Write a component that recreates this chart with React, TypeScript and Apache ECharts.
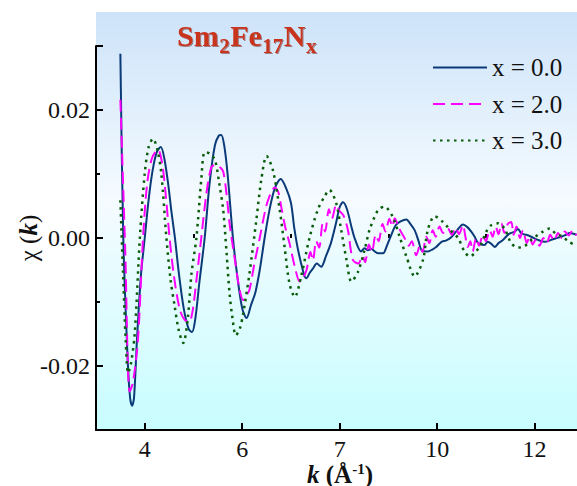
import React, { useEffect, useRef } from "react";
import * as echarts from "echarts";

const seriesNames = ["x = 0.0", "x = 2.0", "x = 3.0"];

// title pieces: [text, isSubscript]
const titleParts: [string, boolean][] = [
  ["Sm", false],
  ["2", true],
  ["Fe", false],
  ["17", true],
  ["N", false],
  ["x", true],
];

// x = 0.0
const k0 = [3.5, 3.56, 3.65, 3.7, 3.74, 3.78, 3.84, 3.92, 4.0, 4.08, 4.16, 4.25, 4.33, 4.4, 4.48, 4.55, 4.62, 4.7, 4.8, 4.9, 4.97, 5.04, 5.12, 5.23, 5.33, 5.44, 5.52, 5.57, 5.63, 5.7, 5.81, 5.9, 6.0, 6.09, 6.18, 6.27, 6.36, 6.46, 6.56, 6.67, 6.79, 6.9, 7.0, 7.07, 7.15, 7.28, 7.32, 7.38, 7.45, 7.53, 7.62, 7.72, 7.82, 7.93, 8.0, 8.07, 8.15, 8.25, 8.32, 8.44, 8.51, 8.58, 8.65, 8.72, 8.79, 8.89, 8.97, 9.06, 9.15, 9.25, 9.37, 9.45, 9.54, 9.62, 9.68, 9.81, 9.9, 9.98, 10.09, 10.18, 10.29, 10.41, 10.53, 10.62, 10.7, 10.77, 10.84, 10.97, 11.04, 11.11, 11.18, 11.26, 11.35, 11.47, 11.59, 11.66, 11.73, 11.83, 11.93, 12.07, 12.21, 12.34, 12.45, 12.55, 12.64, 12.72, 12.86];
const chi0 = [0.0288, 0.0, -0.019, -0.025, -0.0262, -0.025, -0.016, -0.006, 0.0, 0.006, 0.0105, 0.0135, 0.0142, 0.0125, 0.0085, 0.004, 0.0, -0.0055, -0.011, -0.0142, -0.0147, -0.0125, -0.007, 0.0, 0.0085, 0.0145, 0.016, 0.0161, 0.0145, 0.01, 0.0, -0.006, -0.011, -0.0125, -0.0105, -0.0085, -0.005, 0.0, 0.0044, 0.0078, 0.0092, 0.0078, 0.0055, 0.0015, -0.002, -0.006, -0.0063, -0.0055, -0.0048, -0.004, -0.0045, -0.0028, -0.0008, 0.0025, 0.0048, 0.0056, 0.0045, 0.0015, -0.0003, -0.0021, -0.0016, -0.0019, -0.0017, -0.0021, -0.0024, -0.0024, -0.0012, 0.0005, 0.002, 0.0026, 0.0029, 0.0022, 0.0012, -0.0005, -0.0019, -0.0021, -0.0018, -0.0014, -0.0006, -0.0004, 0.0001, 0.0012, 0.0021, 0.0017, 0.001, 0.0002, -0.0008, -0.0011, -0.0006, -0.0009, -0.0014, -0.0008, -0.0003, 0.0006, 0.001, 0.0014, 0.0007, 0.0005, 0.0002, -0.0003, -0.0006, -0.0003, 0.0, 0.0002, 0.0005, 0.0008, 0.0005];

// x = 2.0
const k2 = [3.5, 3.6, 3.69, 3.76, 3.86, 3.965, 4.05, 4.15, 4.27, 4.36, 4.44, 4.51, 4.6, 4.72, 4.82, 4.91, 4.98, 5.07, 5.16, 5.27, 5.37, 5.47, 5.55, 5.61, 5.68, 5.74, 5.85, 5.94, 6.02, 6.1, 6.15, 6.25, 6.36, 6.45, 6.53, 6.67, 6.74, 6.8, 6.88, 6.97, 7.08, 7.18, 7.25, 7.32, 7.4, 7.45, 7.52, 7.58, 7.65, 7.7, 7.78, 7.84, 7.93, 8.0, 8.08, 8.17, 8.27, 8.38, 8.47, 8.52, 8.6, 8.66, 8.74, 8.8, 8.88, 8.94, 9.02, 9.08, 9.13, 9.22, 9.33, 9.42, 9.48, 9.57, 9.65, 9.7, 9.78, 9.84, 9.91, 9.97, 10.05, 10.12, 10.22, 10.3, 10.38, 10.45, 10.53, 10.58, 10.63, 10.68, 10.73, 10.8, 10.86, 10.94, 11.0, 11.08, 11.14, 11.2, 11.26, 11.32, 11.38, 11.45, 11.52, 11.57, 11.63, 11.7, 11.76, 11.84, 11.9, 11.96, 12.03, 12.1, 12.18, 12.25, 12.32, 12.4, 12.48, 12.55, 12.62, 12.7, 12.78, 12.86];
const chi2 = [0.0216, -0.002, -0.024, -0.0225, -0.016, 0.0, 0.0085, 0.0125, 0.0138, 0.0115, 0.006, 0.0, -0.006, -0.0112, -0.0128, -0.0131, -0.0115, -0.006, 0.0, 0.0072, 0.0111, 0.0114, 0.011, 0.0104, 0.0068, 0.0023, -0.0034, -0.0078, -0.0097, -0.0088, -0.0081, -0.004, 0.0, 0.0035, 0.0059, 0.0079, 0.0072, 0.0049, 0.0018, -0.0008, -0.0045, -0.0068, -0.0062, -0.005, -0.0022, -0.0035, -0.0005, -0.0015, 0.0022, 0.001, 0.0045, 0.003, 0.0052, 0.0042, 0.0035, 0.0012, -0.0034, -0.004, -0.0028, -0.0038, -0.001, -0.0022, 0.0005, -0.0005, 0.0022, 0.001, 0.003, 0.0018, 0.0031, 0.0015, 0.0, -0.0012, -0.0005, -0.0027, -0.0012, -0.0022, 0.0002, -0.0008, 0.0012, 0.0002, 0.0018, 0.0008, 0.0015, 0.0005, 0.0016, 0.0006, 0.002, 0.0002, -0.0014, -0.0005, -0.0021, 0.0, -0.0012, 0.0005, -0.0005, 0.0012, 0.0002, 0.0018, 0.0006, 0.0023, 0.0008, 0.0022, 0.0025, 0.0005, 0.0018, 0.0, 0.0012, -0.0008, 0.0003, -0.001, -0.0002, -0.0012, 0.0, -0.0008, 0.0005, -0.0004, 0.0008, 0.0, 0.001, 0.0004, 0.0012, 0.0004];

// x = 3.0
const k3 = [3.5, 3.555, 3.61, 3.66, 3.72, 3.795, 3.9, 4.0, 4.08, 4.17, 4.26, 4.34, 4.445, 4.53, 4.615, 4.7, 4.79, 4.88, 4.96, 5.06, 5.16, 5.23, 5.33, 5.44, 5.53, 5.61, 5.68, 5.74, 5.8, 5.87, 5.95, 6.02, 6.15, 6.29, 6.39, 6.5, 6.63, 6.77, 6.87, 6.97, 7.08, 7.21, 7.38, 7.55, 7.69, 7.79, 7.93, 8.03, 8.14, 8.24, 8.375, 8.51, 8.615, 8.79, 8.92, 9.09, 9.23, 9.37, 9.54, 9.71, 9.81, 9.95, 10.12, 10.3, 10.43, 10.56, 10.67, 10.8, 10.91, 11.01, 11.11, 11.25, 11.38, 11.52, 11.66, 11.79, 11.93, 12.07, 12.17, 12.31, 12.43, 12.58, 12.7, 12.84];
const chi3 = [0.0059, -0.0055, -0.016, -0.0211, -0.0195, -0.0149, 0.0, 0.0101, 0.0142, 0.0155, 0.0138, 0.0101, 0.0, -0.0065, -0.0107, -0.0145, -0.0164, -0.0128, -0.0055, 0.0, 0.0091, 0.0134, 0.0132, 0.0122, 0.0085, 0.0044, -0.0024, -0.0086, -0.0125, -0.0152, -0.0142, -0.0118, -0.0055, 0.0028, 0.009, 0.0128, 0.0106, 0.0044, -0.0014, -0.0071, -0.0092, -0.006, 0.0, 0.0044, 0.0065, 0.0075, 0.0054, 0.0013, -0.0034, -0.0068, -0.0053, -0.0019, 0.0013, 0.0044, 0.0049, 0.0033, 0.0002, -0.0029, -0.006, -0.0034, 0.0013, 0.0034, 0.0025, 0.001, 0.0, -0.0021, -0.0029, -0.0021, -0.0008, 0.001, 0.002, 0.0023, 0.0015, -0.0008, -0.0015, -0.0013, -0.0003, 0.0005, 0.001, 0.0015, 0.0007, 0.0002, -0.0006, -0.0011];

const xTickValues = [4, 6, 8, 10, 12];
const xTickLabels = ["4", "6", "7", "10", "12"];
const xMinorTicks = [5, 7, 9, 11];
const yTickValues = [-0.02, 0, 0.02];
const yTickLabels = ["-0.02", "0.00", "0.02"];
const yTickMarks = [-0.02, 0, 0.02, 0.03];
const yMinorTicks = [-0.01, 0.01];

const FONT = "'Liberation Serif', 'Times New Roman', serif";

function zip(ks: number[], vs: number[]) {
  return ks.map((k, i) => [k, vs[i]]);
}

function lookup(values: number[], labels: string[], v: number) {
  for (let i = 0; i < values.length; i++) {
    if (Math.abs(values[i] - v) < 1e-9) return labels[i];
  }
  return "";
}

function measure(text: string, size: number): number {
  const c = document.createElement("canvas").getContext("2d");
  if (!c) return text.length * size * 0.55;
  c.font = `bold ${size}px ${FONT}`;
  return c.measureText(text).width;
}

export default function App() {
  const ref = useRef<HTMLDivElement>(null);
  useEffect(() => {
    const chart = echarts.init(ref.current!, null, { renderer: "svg" });

    // title built from pieces (main text and subscripts)
    const mainSize = 30;
    const subSize = 21;
    const mainBaseline = 46;
    const subBaseline = 53;
    let cx = 177;
    const titleEls: any[] = titleParts.map(([t, sub]) => {
      const size = sub ? subSize : mainSize;
      const w = measure(t, size);
      const el = {
        type: "text",
        x: cx,
        y: (sub ? subBaseline : mainBaseline) - size * 0.3375,
        z: 10,
        style: {
          text: t,
          font: `bold ${size}px ${FONT}`,
          verticalAlign: "middle",
          align: "left",
          fill: "#c9341e",
          textShadowColor: "rgba(90,10,0,0.45)",
          textShadowBlur: 1,
          textShadowOffsetX: 1,
          textShadowOffsetY: 1,
        },
      };
      cx += w + 0.5;
      return el;
    });

    const option: any = {
      animation: false,
      grid: { left: 96, right: 0, top: 46, bottom: 56, containLabel: false },
      legend: {
        orient: "vertical",
        left: 427,
        top: 50,
        itemWidth: 54,
        itemHeight: 14,
        itemGap: 11.5,
        data: seriesNames,
        itemStyle: { opacity: 0 },
        textStyle: { fontFamily: FONT, fontSize: 25, color: "#111", lineHeight: 25 },
      },
      xAxis: [
        {
          type: "value",
          min: 3,
          max: 12.87,
          axisLine: { show: true, onZero: false, lineStyle: { color: "#000", width: 2 } },
          axisTick: {
            show: true,
            inside: true,
            length: 7,
            customValues: xTickValues,
            lineStyle: { color: "#000", width: 2 },
          },
          axisLabel: {
            customValues: xTickValues,
            formatter: (v: number) => lookup(xTickValues, xTickLabels, v),
            fontFamily: FONT,
            fontSize: 24,
            color: "#111",
            margin: 7,
          },
          splitLine: { show: false },
        },
        {
          type: "value",
          position: "bottom",
          min: 3,
          max: 12.87,
          axisLine: { show: false },
          axisTick: {
            show: true,
            inside: true,
            length: 4,
            customValues: xMinorTicks,
            lineStyle: { color: "#000", width: 2 },
          },
          axisLabel: { show: false },
          splitLine: { show: false },
        },
      ],
      yAxis: [
        {
          type: "value",
          min: -0.03,
          max: 0.03,
          axisLine: { show: true, onZero: false, lineStyle: { color: "#000", width: 2 } },
          axisTick: {
            show: true,
            inside: true,
            length: 7,
            customValues: yTickMarks,
            lineStyle: { color: "#000", width: 2 },
          },
          axisLabel: {
            customValues: yTickValues,
            formatter: (v: number) => lookup(yTickValues, yTickLabels, v),
            fontFamily: FONT,
            fontSize: 24,
            color: "#111",
            margin: 6,
          },
          splitLine: { show: false },
        },
        {
          type: "value",
          position: "left",
          min: -0.03,
          max: 0.03,
          axisLine: { show: false },
          axisTick: {
            show: true,
            inside: true,
            length: 4,
            customValues: yMinorTicks,
            lineStyle: { color: "#000", width: 2 },
          },
          axisLabel: { show: false },
          splitLine: { show: false },
        },
      ],
      graphic: [
        {
          type: "rect",
          z: -10,
          silent: true,
          shape: { x: 96, y: 12, width: 481, height: 418 },
          style: {
            fill: new echarts.graphic.LinearGradient(0, 0, 0, 1, [
              { offset: 0, color: "#cde3f9" },
              { offset: 0.45, color: "#f5fbff" },
              { offset: 1, color: "#c8fdfe" },
            ]),
          },
        },
        ...titleEls,
        {
          type: "text",
          x: 28,
          y: 238,
          rotation: Math.PI / 2,
          style: {
            text: "{c|χ (}{k|k}{c|)}",
            align: "center",
            verticalAlign: "middle",
            fill: "#111",
            rich: {
              c: { fontFamily: FONT, fontSize: 25, fill: "#111" },
              k: { fontFamily: FONT, fontSize: 25, fontWeight: "bold", fontStyle: "italic", fill: "#111" },
            },
          },
        },
        {
          type: "text",
          x: 340,
          y: 474,
          style: {
            text: "{k|k}{b| (Å}{s|-1}{b|)}",
            align: "center",
            verticalAlign: "middle",
            fill: "#111",
            rich: {
              k: { fontFamily: FONT, fontSize: 25, fontWeight: "bold", fontStyle: "italic", fill: "#111", lineHeight: 26 },
              b: { fontFamily: FONT, fontSize: 25, fontWeight: "bold", fill: "#111", lineHeight: 26 },
              s: { fontFamily: FONT, fontSize: 15, fontWeight: "bold", fill: "#111", lineHeight: 16, padding: [0, 0, 10, 0] },
            },
          },
        },
      ],
      series: [
        {
          name: seriesNames[0],
          type: "line",
          data: zip(k0, chi0),
          symbol: "none",
          showSymbol: false,
          smooth: 0.3,
          clip: true,
          lineStyle: { color: "#0b3a78", width: 2 },
          itemStyle: { color: "#0b3a78" },
        },
        {
          name: seriesNames[1],
          type: "line",
          data: zip(k2, chi2),
          symbol: "none",
          showSymbol: false,
          smooth: 0.3,
          clip: true,
          lineStyle: { color: "#ff00ff", width: 2, type: [12, 6] },
          itemStyle: { color: "#ff00ff" },
        },
        {
          name: seriesNames[2],
          type: "line",
          data: zip(k3, chi3),
          symbol: "none",
          showSymbol: false,
          smooth: 0.3,
          clip: true,
          lineStyle: { color: "#0a5c0a", width: 2.5, type: [2.5, 4.5] },
          itemStyle: { color: "#0a5c0a" },
        },
      ],
    };
    chart.setOption(option);
    return () => chart.dispose();
  }, []);
  return <div ref={ref} style={{ position: "absolute", left: 0, top: 0, width: 577, height: 486 }} />;
}
